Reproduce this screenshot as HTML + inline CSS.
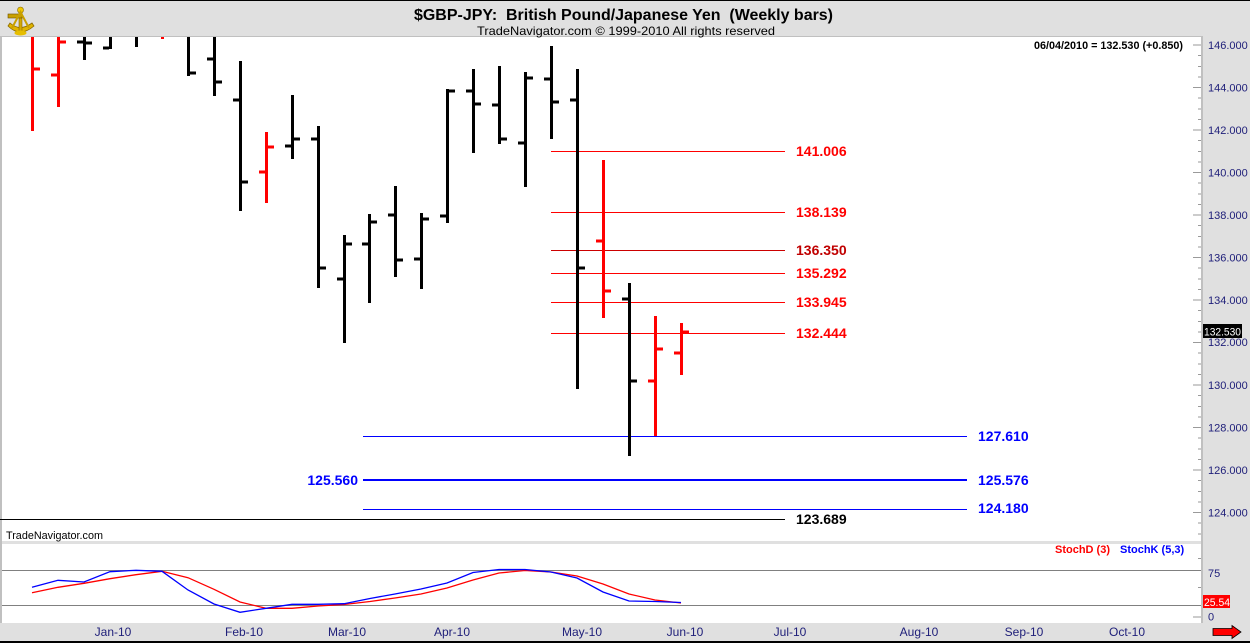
<!DOCTYPE html>
<html><head><meta charset="utf-8"><style>
html,body{margin:0;padding:0;background:#fff;}
svg{display:block;}
text{font-family:"Liberation Sans",Arial,sans-serif;}
</style></head><body>
<svg width="1250" height="643" viewBox="0 0 1250 643" xmlns="http://www.w3.org/2000/svg">
<!-- backgrounds -->
<rect x="0" y="0" width="1250" height="643" fill="#e0e0e0"/>
<rect x="0" y="0" width="1250" height="1" fill="#000"/>
<rect x="0" y="36" width="1203" height="1" fill="#c0c0c0"/>
<rect x="0" y="37" width="1201" height="504" fill="#fff"/>
<rect x="0" y="37" width="2" height="586" fill="#c0c0c0"/>
<rect x="2" y="544" width="1199" height="79" fill="#fff"/>
<rect x="1201" y="37" width="2" height="586" fill="#c0c0c0"/>
<rect x="0" y="641" width="1250" height="2" fill="#000"/>

<!-- logo -->
<g transform="translate(4,4)">
<path d="M4 22 Q16 34 30 22 L28 19 Q16 28 6 19 Z" fill="#e0b400" stroke="#8a6a00" stroke-width="0.8"/>
<rect x="15" y="5" width="3" height="24" fill="#d4a800" stroke="#8a6a00" stroke-width="0.6"/>
<rect x="4" y="10" width="14" height="4" fill="#c9a000" stroke="#6a5000" stroke-width="0.6"/>
<circle cx="16.5" cy="6" r="3" fill="#f0c800" stroke="#8a6a00" stroke-width="0.6"/>
<path d="M8 24 L16.5 8 L25 24" fill="none" stroke="#c9a000" stroke-width="2"/>
<ellipse cx="16.5" cy="29" rx="6" ry="2.5" fill="#e6be00"/>
</g>

<!-- title -->
<text x="414" y="20" font-size="16" font-weight="bold" fill="#000" textLength="419" lengthAdjust="spacingAndGlyphs">$GBP-JPY:&#160; British Pound/Japanese Yen&#160; (Weekly bars)</text>
<text x="477" y="35" font-size="12" fill="#000" textLength="298" lengthAdjust="spacingAndGlyphs">TradeNavigator.com © 1999-2010 All rights reserved</text>

<text x="1183" y="49" font-size="11" font-weight="bold" fill="#000" text-anchor="end" textLength="149" lengthAdjust="spacingAndGlyphs">06/04/2010 = 132.530 (+0.850)</text>

<!-- right axis ticks -->
<g fill="#9a9a9a">
<rect x="1193" y="44.5" width="8" height="1"/><rect x="1198" y="55" width="3" height="1"/><rect x="1198" y="66" width="3" height="1"/><rect x="1198" y="76.5" width="3" height="1"/>
<rect x="1193" y="87" width="8" height="1"/><rect x="1198" y="97.5" width="3" height="1"/><rect x="1198" y="108.5" width="3" height="1"/><rect x="1198" y="119" width="3" height="1"/>
<rect x="1193" y="129.5" width="8" height="1"/><rect x="1198" y="140" width="3" height="1"/><rect x="1198" y="151" width="3" height="1"/><rect x="1198" y="161.5" width="3" height="1"/>
<rect x="1193" y="172" width="8" height="1"/><rect x="1198" y="182.5" width="3" height="1"/><rect x="1198" y="193.5" width="3" height="1"/><rect x="1198" y="204" width="3" height="1"/>
<rect x="1193" y="214.5" width="8" height="1"/><rect x="1198" y="225" width="3" height="1"/><rect x="1198" y="236" width="3" height="1"/><rect x="1198" y="246.5" width="3" height="1"/>
<rect x="1193" y="257" width="8" height="1"/><rect x="1198" y="267.5" width="3" height="1"/><rect x="1198" y="278.5" width="3" height="1"/><rect x="1198" y="289" width="3" height="1"/>
<rect x="1193" y="299.5" width="8" height="1"/><rect x="1198" y="310" width="3" height="1"/><rect x="1198" y="321" width="3" height="1"/><rect x="1198" y="331.5" width="3" height="1"/>
<rect x="1193" y="342" width="8" height="1"/><rect x="1198" y="352.5" width="3" height="1"/><rect x="1198" y="363.5" width="3" height="1"/><rect x="1198" y="374" width="3" height="1"/>
<rect x="1193" y="384.5" width="8" height="1"/><rect x="1198" y="395" width="3" height="1"/><rect x="1198" y="406" width="3" height="1"/><rect x="1198" y="416.5" width="3" height="1"/>
<rect x="1193" y="427" width="8" height="1"/><rect x="1198" y="437.5" width="3" height="1"/><rect x="1198" y="448.5" width="3" height="1"/><rect x="1198" y="459" width="3" height="1"/>
<rect x="1193" y="469.5" width="8" height="1"/><rect x="1198" y="480" width="3" height="1"/><rect x="1198" y="491" width="3" height="1"/><rect x="1198" y="501.5" width="3" height="1"/>
<rect x="1193" y="512" width="8" height="1"/><rect x="1198" y="522.5" width="3" height="1"/><rect x="1198" y="533.5" width="3" height="1"/>
<!-- stoch ticks -->
<rect x="1198" y="558" width="3" height="1"/><rect x="1193" y="570" width="8" height="1"/><rect x="1198" y="587" width="3" height="1"/><rect x="1193" y="616.5" width="8" height="1"/>
</g>
<g font-size="11" fill="#20207a">
<text x="1208" y="49">146.000</text>
<text x="1208" y="91.5">144.000</text>
<text x="1208" y="134">142.000</text>
<text x="1208" y="176.5">140.000</text>
<text x="1208" y="219">138.000</text>
<text x="1208" y="261.5">136.000</text>
<text x="1208" y="304">134.000</text>
<text x="1208" y="346">132.000</text>
<text x="1208" y="389">130.000</text>
<text x="1208" y="431.5">128.000</text>
<text x="1208" y="474">126.000</text>
<text x="1208" y="516.5">124.000</text>
<text x="1208" y="577">75</text>
<text x="1208" y="620.5">0</text>
</g>
<rect x="1203" y="324" width="39" height="14" fill="#000"/>
<text x="1204" y="335.5" font-size="11" fill="#fff" textLength="37" lengthAdjust="spacingAndGlyphs">132.530</text>

<!-- fib lines -->
<g>
<rect x="551" y="151" width="234" height="1" fill="#ff0000"/>
<rect x="551" y="212" width="234" height="1" fill="#ff0000"/>
<rect x="551" y="250" width="234" height="1" fill="#cc0000"/>
<rect x="551" y="273" width="234" height="1" fill="#ff0000"/>
<rect x="551" y="302" width="234" height="1" fill="#ff0000"/>
<rect x="551" y="333" width="234" height="1" fill="#ff0000"/>
<rect x="363" y="436" width="604" height="1" fill="#0000ff"/>
<rect x="363" y="479" width="604" height="2" fill="#0000ff"/>
<rect x="363" y="509" width="604" height="1" fill="#0000ff"/>
<rect x="0" y="519" width="785" height="1" fill="#000"/>
</g>
<g font-size="14" font-weight="bold">
<text x="796" y="156" fill="#ff0000">141.006</text>
<text x="796" y="217" fill="#ff0000">138.139</text>
<text x="796" y="255" fill="#c00000">136.350</text>
<text x="796" y="278" fill="#ff0000">135.292</text>
<text x="796" y="307" fill="#ff0000">133.945</text>
<text x="796" y="338" fill="#ff0000">132.444</text>
<text x="978" y="441" fill="#0000ff">127.610</text>
<text x="978" y="485" fill="#0000ff">125.576</text>
<text x="978" y="513" fill="#0000ff">124.180</text>
<text x="358" y="485" fill="#0000ff" text-anchor="end">125.560</text>
<text x="796" y="524" fill="#000">123.689</text>
</g>

<!-- bars -->
<g fill="#ff0000">
<rect x="31" y="37" width="3" height="94"/><rect x="34" y="67.5" width="6" height="3"/>
<rect x="57" y="37" width="3" height="70"/><rect x="51" y="73.5" width="6" height="3"/><rect x="60" y="40.5" width="6" height="3"/>
<rect x="161" y="37" width="3" height="2"/>
<rect x="265" y="132" width="3" height="71"/><rect x="259" y="170.5" width="6" height="3"/><rect x="268" y="145.5" width="6" height="3"/>
<rect x="602" y="160" width="3" height="158"/><rect x="596" y="239.5" width="6" height="3"/><rect x="605" y="289.5" width="6" height="3"/>
<rect x="654" y="316" width="3" height="120"/><rect x="648" y="379.5" width="6" height="3"/><rect x="657" y="347.5" width="6" height="3"/>
<rect x="680" y="323" width="3" height="52"/><rect x="674" y="351.5" width="6" height="3"/><rect x="683" y="330.5" width="6" height="3"/>
</g>
<g fill="#000">
<rect x="83" y="37" width="3" height="23"/><rect x="77" y="40.5" width="6" height="3"/><rect x="86" y="41.5" width="6" height="3"/>
<rect x="109" y="37" width="3" height="12"/><rect x="103" y="46.5" width="6" height="3"/>
<rect x="135" y="37" width="3" height="10"/>
<rect x="187" y="37" width="3" height="39"/><rect x="190" y="71.5" width="6" height="3"/>
<rect x="213" y="37" width="3" height="59"/><rect x="207" y="57.5" width="6" height="3"/><rect x="216" y="80.5" width="6" height="3"/>
<rect x="239" y="61" width="3" height="150"/><rect x="233" y="98.5" width="6" height="3"/><rect x="242" y="180.5" width="6" height="3"/>
<rect x="291" y="95" width="3" height="64"/><rect x="285" y="144.5" width="6" height="3"/><rect x="294" y="137.5" width="6" height="3"/>
<rect x="317" y="126" width="3" height="162"/><rect x="311" y="137.5" width="6" height="3"/><rect x="320" y="266.5" width="6" height="3"/>
<rect x="343" y="235" width="3" height="108"/><rect x="337" y="277.5" width="6" height="3"/><rect x="346" y="242.5" width="6" height="3"/>
<rect x="368" y="214" width="3" height="89"/><rect x="362" y="242.5" width="6" height="3"/><rect x="371" y="220.5" width="6" height="3"/>
<rect x="394" y="186" width="3" height="91"/><rect x="388" y="213.5" width="6" height="3"/><rect x="397" y="258.5" width="6" height="3"/>
<rect x="420" y="213" width="3" height="76"/><rect x="414" y="257.5" width="6" height="3"/><rect x="423" y="217.5" width="6" height="3"/>
<rect x="446" y="89" width="3" height="134"/><rect x="440" y="214.5" width="6" height="3"/><rect x="449" y="89.5" width="6" height="3"/>
<rect x="472" y="69" width="3" height="84"/><rect x="466" y="89.5" width="6" height="3"/><rect x="475" y="102.5" width="6" height="3"/>
<rect x="498" y="66" width="3" height="78"/><rect x="492" y="103.5" width="6" height="3"/><rect x="501" y="137.5" width="6" height="3"/>
<rect x="524" y="72" width="3" height="115"/><rect x="518" y="141.5" width="6" height="3"/><rect x="527" y="76.5" width="6" height="3"/>
<rect x="550" y="46" width="3" height="93"/><rect x="544" y="77.5" width="6" height="3"/><rect x="553" y="100.5" width="6" height="3"/>
<rect x="576" y="69" width="3" height="320"/><rect x="570" y="98.5" width="6" height="3"/><rect x="579" y="266.5" width="6" height="3"/>
<rect x="628" y="283" width="3" height="173"/><rect x="622" y="297.5" width="6" height="3"/><rect x="631" y="379.5" width="6" height="3"/>
</g>

<text x="6" y="539" font-size="11" fill="#000" textLength="97" lengthAdjust="spacingAndGlyphs">TradeNavigator.com</text>

<!-- stoch panel -->
<rect x="2" y="570" width="1199" height="1" fill="#808080"/>
<rect x="2" y="605" width="1199" height="1" fill="#808080"/>
<text x="1055" y="553" font-size="11" font-weight="bold" fill="#ff0000">StochD (3)</text>
<text x="1120" y="553" font-size="11" font-weight="bold" fill="#0000ff">StochK (5,3)</text>
<polyline fill="none" stroke="#ff0000" stroke-width="1.3" points="32,592.7 58,587.3 84,583.3 110,578.7 136,574.7 162,571.3 188,577.7 214,589.3 240,602 266,608.3 292,608.3 318,606 344,604.5 370,601.5 395,598 421,594 447,588 473,580 499,573 525,570.5 551,572 577,576 603,584 629,594 655,600 681,603"/>
<polyline fill="none" stroke="#0000ff" stroke-width="1.3" points="32,587.3 58,580.3 84,582 110,571.7 136,570.3 162,571.3 188,590 214,604 240,612.3 266,608.3 292,604.3 318,604.3 344,603.7 370,598.5 395,594 421,589 447,583 473,572.5 499,569.5 525,569.5 551,572 577,578 603,592 629,601 655,601.5 681,602.5"/>
<rect x="1203" y="595" width="27" height="13" fill="#ff0000"/>
<text x="1204" y="606" font-size="11" fill="#fff" textLength="26" lengthAdjust="spacingAndGlyphs">25.54</text>

<!-- x axis labels -->
<g font-size="12" fill="#20207a" text-anchor="middle">
<text x="113" y="636">Jan-10</text>
<text x="244" y="636">Feb-10</text>
<text x="347" y="636">Mar-10</text>
<text x="452" y="636">Apr-10</text>
<text x="582" y="636">May-10</text>
<text x="685" y="636">Jun-10</text>
<text x="790" y="636">Jul-10</text>
<text x="919" y="636">Aug-10</text>
<text x="1024" y="636">Sep-10</text>
<text x="1127" y="636">Oct-10</text>
</g>
<polygon points="1213,628.5 1232,628.5 1232,625.5 1241,632 1232,638.5 1232,635.5 1213,635.5" fill="#ff0000" stroke="#000" stroke-width="0.8"/>
</svg>
</body></html>
